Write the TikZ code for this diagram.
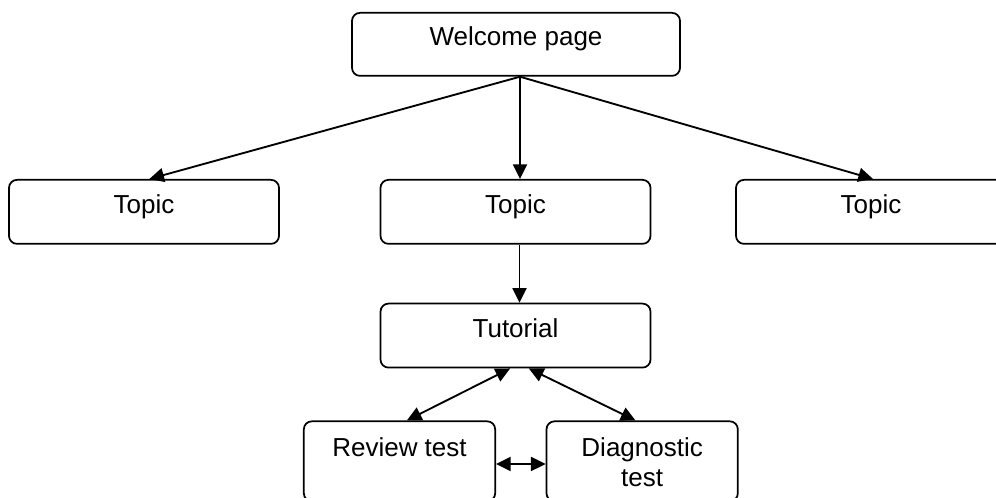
\documentclass[tikz,border=0pt]{standalone}
\usepackage{fontspec}
\setmainfont{Liberation Sans}
\usetikzlibrary{arrows.meta}

\begin{document}
\begin{tikzpicture}[x=0.75pt, y=0.75pt,
                    box/.style={
                        draw,
                        line width=1.3pt,
                        rounded corners=6pt,
                        fill=white,
                        minimum width=202.5pt,
                        inner sep=0pt,
                        text height=25.5pt,
                        text depth=22.5pt,
                        align=center,
                        font=\fontsize{19.5}{22.5}\selectfont
                    },
                    testbox/.style={
                        box,
                        minimum width=143.5pt,
                        text height=26.25pt,
                        text depth=33.75pt
                    },
                    link/.style={
                        line width=1.4pt,
                        -{Triangle[length=11pt, width=10.5pt]}
                    },
                    twoway/.style={
                        link,
                        {Triangle[length=11pt, width=10.5pt]}-{Triangle[length=11pt, width=10.5pt]}
                    }
                ]

    \clip (0,0) rectangle (996,498);

    % Welcome page (top)
    \node[box,
        minimum width=246pt,
        text height=24.75pt,
        anchor=north
    ] (welcome) at (516,486) {Welcome page};

    % Topic row
    \node[box, anchor=north] (topicL) at (144,319) {Topic};
    \node[box, anchor=north] (topicM) at (515.5,319) {Topic};
    \node[box, anchor=north] (topicR) at (871,319) {Topic};

    % Tutorial, below the middle topic
    \node[box,
        anchor=north
    ] (tutorial) at ([yshift=-43.5pt]topicM.south) {Tutorial};

    % Tests (bottom row)
    \node[testbox,
        anchor=north
    ] (review) at ([xshift=-87pt, yshift=-39pt]tutorial.south) {Review test};
    % two lines: baseline sits on the last one
    \node[testbox,
        text height=48.75pt,
        text depth=11.25pt,
        anchor=north
    ] (diag) at ([xshift=95pt, yshift=-39pt]tutorial.south) {Diagnostic\\test};

    % Links
    \coordinate (fork) at ([xshift=3pt]welcome.south);
    \draw[link] (fork) -- ([xshift=4pt]topicL.north);
    \draw[link] (fork) -- (fork |- topicM.north);
    \draw[link] (fork) -- ([xshift=1.5pt]topicR.north);
    \draw[link] ([xshift=3pt]topicM.south) -- ([xshift=3pt]tutorial.north);
    \draw[twoway] ([xshift=-4pt]tutorial.south) -- ([xshift=5.5pt]review.north);
    \draw[twoway] ([xshift=10pt]tutorial.south) -- ([xshift=-5pt]diag.north);
    \draw[twoway] ([yshift=-2pt]review.east) -- ([yshift=-2pt]diag.west);
\end{tikzpicture}
\end{document}
